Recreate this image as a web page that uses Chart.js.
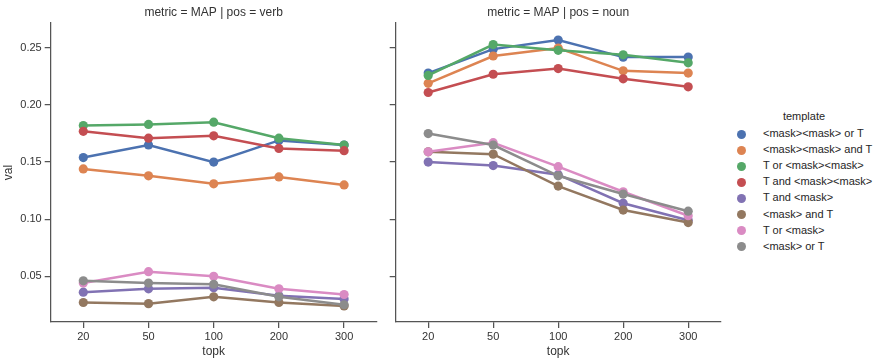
<!DOCTYPE html>
<html>
<head>
<meta charset="utf-8">
<script src="https://cdn.jsdelivr.net/npm/chart.js@4"></script>
<style>
  body { margin: 0; background: #fff; font-family: "Liberation Sans", Arial, sans-serif; }
  #wrap { position: relative; width: 881px; height: 362px; overflow: hidden; }
  canvas { position: absolute; top: 0; }
  #legend { position: absolute; left: 0; top: 0; font-size: 11px; color: #262626; }
  .ltitle { position: absolute; width: 100px; text-align: center; }
  .litem { position: absolute; white-space: nowrap; }
  .dot { position: absolute; width: 9px; height: 9px; border-radius: 50%; }
</style>
</head>
<body>
<div id="wrap">
  <canvas id="verbChart" width="385" height="362" style="left:0"></canvas>
  <canvas id="nounChart" width="345" height="362" style="left:385px"></canvas>
  <div id="legend"></div>
</div>
<script>
const topk = ['20', '50', '100', '200', '300'];

const templates = [
    '<mask><mask> or T',
    '<mask><mask> and T',
    'T or <mask><mask>',
    'T and <mask><mask>',
    'T and <mask>',
    '<mask> and T',
    'T or <mask>',
    '<mask> or T'
];

const colors = ['#4C72B0', '#DD8452', '#55A868', '#C44E52', '#8172B3', '#937860', '#DA8BC3', '#8C8C8C'];

// one row per template, one value per topk
const verbValues = [
    [0.154, 0.165, 0.150, 0.169, 0.165],
    [0.144, 0.138, 0.131, 0.137, 0.130],
    [0.182, 0.183, 0.185, 0.171, 0.165],
    [0.177, 0.171, 0.173, 0.162, 0.160],
    [0.036, 0.039, 0.040, 0.033, 0.030],
    [0.027, 0.026, 0.032, 0.027, 0.024],
    [0.044, 0.054, 0.050, 0.039, 0.034],
    [0.046, 0.044, 0.043, 0.032, 0.025]
];

const nounValues = [
    [0.228, 0.249, 0.257, 0.242, 0.242],
    [0.219, 0.243, 0.250, 0.230, 0.228],
    [0.226, 0.253, 0.248, 0.244, 0.237],
    [0.211, 0.227, 0.232, 0.223, 0.216],
    [0.150, 0.147, 0.139, 0.114, 0.099],
    [0.159, 0.157, 0.129, 0.108, 0.097],
    [0.159, 0.167, 0.146, 0.124, 0.103],
    [0.175, 0.165, 0.138, 0.122, 0.107]
];

const yMin = 0.0099;
const yMax = 0.2719;

const font = '"Liberation Sans", Arial, sans-serif';
const textColor = '#333';
const spineColor = '#555';

function makeDatasets(values) {
    return values.map((row, i) => ({
        label: templates[i],
        data: row,
        borderColor: colors[i],
        backgroundColor: colors[i],
        borderWidth: 2.5,
        pointRadius: 4.6,
        pointHoverRadius: 4.6,
        pointBorderWidth: 0,
        tension: 0,
        order: values.length - i
    }));
}

function makeChart(id, title, values, showYLabels, yWidth, padRight) {
    const ctx = document.getElementById(id);
    return new Chart(ctx, {
        type: 'line',
        data: {
            labels: topk,
            datasets: makeDatasets(values)
        },
        options: {
            responsive: false,
            animation: false,
            layout: { padding: { left: 0, right: padRight, top: 0, bottom: 0 } },
            plugins: {
                legend: { display: false },
                tooltip: { enabled: false },
                title: {
                    display: true,
                    text: title,
                    fullSize: false,
                    color: textColor,
                    font: { family: font, size: 12, weight: 'normal' },
                    padding: { top: 5.5, bottom: 3.1 }
                }
            },
            scales: {
                x: {
                    type: 'category',
                    offset: true,
                    border: { color: spineColor, width: 1.25 },
                    grid: { drawOnChartArea: false, drawTicks: true, tickLength: 6, color: spineColor, lineWidth: 1.25 },
                    ticks: { color: textColor, font: { family: font, size: 11 }, padding: 2, maxRotation: 0 },
                    title: {
                        display: true,
                        text: 'topk',
                        color: textColor,
                        font: { family: font, size: 12 },
                        padding: { top: 0, bottom: 3.1 }
                    },
                    afterFit: (scale) => { scale.height = 40; }
                },
                y: {
                    min: yMin,
                    max: yMax,
                    border: { color: spineColor, width: 1.25 },
                    grid: { drawOnChartArea: false, drawTicks: true, tickLength: 6, color: spineColor, lineWidth: 1.25 },
                    ticks: {
                        stepSize: 0.05,
                        includeBounds: false,
                        color: textColor,
                        font: { family: font, size: 11 },
                        padding: 3,
                        callback: (v) => showYLabels ? v.toFixed(2) : ''
                    },
                    title: {
                        display: showYLabels,
                        text: 'val',
                        color: textColor,
                        font: { family: font, size: 12 },
                        padding: { top: 1.8, bottom: 0 }
                    },
                    afterFit: (scale) => { scale.width = yWidth; }
                }
            }
        }
    });
}

makeChart('verbChart', 'metric = MAP | pos = verb', verbValues, true, 50.7, 8.3);
makeChart('nounChart', 'metric = MAP | pos = noun', nounValues, false, 10.7, 9.3);

// legend
const legend = document.getElementById('legend');
const lt = document.createElement('div');
lt.className = 'ltitle';
lt.textContent = 'template';
lt.style.left = '754px';
lt.style.top = '110px';
legend.appendChild(lt);
templates.forEach((name, i) => {
    const y = 134 + i * 16.1;
    const dot = document.createElement('div');
    dot.className = 'dot';
    dot.style.background = colors[i];
    dot.style.left = (741.7 - 4.5) + 'px';
    dot.style.top = (y - 4.5) + 'px';
    legend.appendChild(dot);
    const item = document.createElement('div');
    item.className = 'litem';
    item.textContent = name;
    item.style.left = '763px';
    item.style.top = (y - 7) + 'px';
    legend.appendChild(item);
});
</script>
</body>
</html>
